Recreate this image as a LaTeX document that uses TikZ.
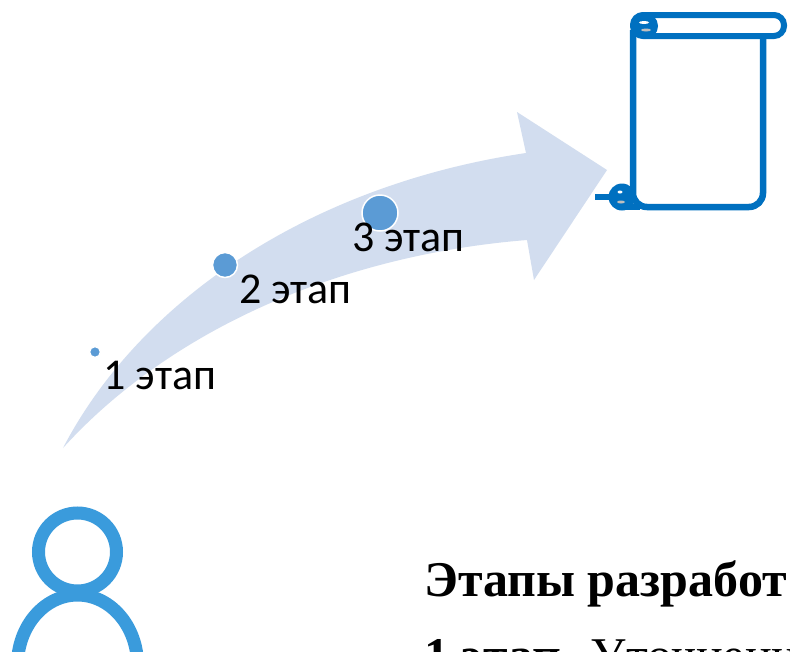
\documentclass[tikz,border=0pt]{standalone}
\usepackage{fontspec}
\setmainfont{Liberation Serif}
\newfontfamily\labelfont{Carlito}
\definecolor{arrowblue}{HTML}{D2DDEF}
\definecolor{dotblue}{HTML}{5B9BD5}
\definecolor{scrollblue}{HTML}{0070C0}
\definecolor{personblue}{HTML}{3A9BDC}
\tikzset{
  stagedot/.style={draw=white, line width=1.5pt, circle, fill=dotblue, inner sep=0pt},
  stagelabel/.style={anchor=base west, inner sep=0pt, font=\labelfont\fontsize{44}{44}\selectfont},
  heading/.style={anchor=base west, inner sep=0pt, font=\fontsize{50}{50}\selectfont}
}
\begin{document}
\begin{tikzpicture}[x=1pt,y=-1pt]
    \clip (0,0) rectangle (790,651);
    \fill[white] (0,0) rectangle (790,651);

    % big curved arrow
    \fill[arrowblue] (63,448) .. controls (140,300) and (310,185) .. (526,153)
        -- (517,112) -- (607,170) -- (534,280) -- (527,240)
        .. controls (340,255) and (170,330) .. (63,448);

    % stages
    \node[stagedot, minimum size=11pt] (dotone) at (95,352) {};
    \node[stagedot, minimum size=25pt] (dottwo) at (225,265) {};
    \node[stagedot, minimum size=36pt] (dotthree) at (380,213) {};
    \node[stagelabel] (labelone) at (103.5,389) {1 этап};
    \node[stagelabel] (labeltwo) at (239,303) {2 этап};
    \node[stagelabel] (labelthree) at (352,251) {3 этап};

    % scroll
    \draw[scrollblue, line width=6.5pt, rounded corners=14pt]
        (633,30) -- (633,207) -- (763,207) -- (763,36);
    \draw[scrollblue, line width=6.5pt] (620,207) -- (640,207);
    \draw[scrollblue, line width=6pt, rounded corners=10pt]
        (633,15) rectangle (784,36);
    \draw[scrollblue, line width=6pt] (595,197) -- (612,197);
    \fill[scrollblue] (645,26) circle (13);
    \fill[scrollblue] (622,197) circle (13.5);
    \fill[white] (644,22.5) ellipse (5 and 1.5);
    \fill[white!75!black] (646,30) ellipse (5 and 1.5);
    \fill[white] (620,192) ellipse (2.5 and 1.5);
    \fill[white!75!black] (621,202) ellipse (4 and 1.5);

    % person
    \draw[personblue, line width=13pt] (77.5,552) ellipse (39 and 39);
    \draw[personblue, line width=13pt] (77.5,665) ellipse (60 and 70);

    % text below
    \node[heading, font=\bfseries\fontsize{50}{50}\selectfont] (title) at (424,596) {Этапы разработ};
    \node[heading] (stepone) at (424,672) {\textbf{1 этап.} Уточнени};
\end{tikzpicture}
\end{document}
